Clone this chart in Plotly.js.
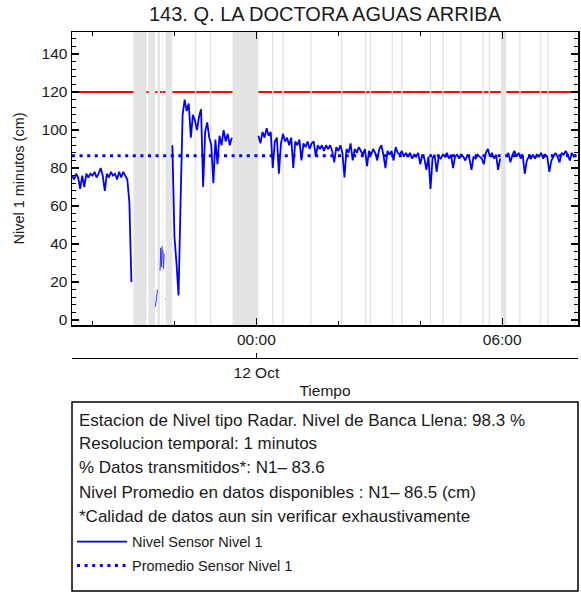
<!DOCTYPE html>
<html><head><meta charset="utf-8">
<script src="https://cdn.plot.ly/plotly-3.0.1.min.js"></script>
<style>html,body{margin:0;padding:0;background:#fff}#chart{width:581px;height:593px}</style>
</head><body><div id="chart"></div>
<script>
const titulo = '143. Q. LA DOCTORA AGUAS ARRIBA';
const tituloY = 'Nivel 1 minutos (cm)';
const tituloX = 'Tiempo';
const etiquetaFecha = '12 Oct';
const fechaMedianoche = '2021-10-12 00:00';
const inicioSerieUTC = Date.UTC(2021, 9, 11, 19, 30);
const pasoMinutos = 3;
// Nivel (cm), one value every 3 minutes from 19:30 on 11 Oct; null = no data
const nivel = [
 76,74,77,75,69,76,70,77,75,77,76,78,75,77,80,76,68,77,75,78,76,77,74,78,75,78,76,74,62,20,
 null,null,null,null,null,null,null,null,null,null,null,null,null,null,null,null,null,null,null,
 92,44,30,13,62,108,116,110,114,96,108,105,100,107,111,70,99,104,96,92,72,95,82,97,92,100,94,98,92,96,
 null,null,null,null,null,null,null,null,null,null,null,null,
 97,93,99,96,101,97,99,80,94,96,
 77,93,98,94,96,92,96,80,94,92,
 95,84,93,91,94,90,93,94,86,92,
 90,92,89,92,90,92,89,83,91,89,
 92,88,75,90,88,93,84,90,88,91,
 89,87,90,81,89,87,90,88,84,90,
 92,87,80,89,87,89,84,91,88,87,
 89,86,88,86,88,85,87,86,88,82,
 87,85,79,86,69,85,87,78,86,85,
 87,86,88,85,87,80,86,87,85,87,
 86,84,87,85,79,86,85,87,86,85,
 82,88,90,86,88,85,87,79,85,
 null,null,
 86,88,83,87,89,86,88,85,87,77,
 84,86,85,87,85,87,86,88,85,87,
 86,78,84,86,88,86,83,88,87,89,
 87,84,88,86,87
];
// short data fragments inside the first outage
const fragTiempo = ['2021-10-11 21:32','2021-10-11 21:33','2021-10-11 21:34','2021-10-11 21:35',null,
 '2021-10-11 21:39','2021-10-11 21:40','2021-10-11 21:41','2021-10-11 21:42',null,
 '2021-10-11 21:43','2021-10-11 21:44','2021-10-11 21:45',null,
 '2021-10-11 21:46','2021-10-11 21:47'];
const fragNivel = [7,9,12,16,null,26,38,28,39,null,37,27,35,null,11,11];
const promedio = 86.5;
const bancaLlena = 120;
const finDatos = '2021-10-12 07:51';
// outages (grey bands)
const gapInicio = ['2021-10-11 21:00','2021-10-11 21:22','2021-10-11 21:35','2021-10-11 21:42','2021-10-11 21:47',
 '2021-10-11 22:30','2021-10-11 22:52','2021-10-11 23:25','2021-10-12 00:23','2021-10-12 00:38','2021-10-12 01:19',
 '2021-10-12 02:04','2021-10-12 02:39','2021-10-12 02:46','2021-10-12 03:18','2021-10-12 03:32','2021-10-12 04:14',
 '2021-10-12 04:32','2021-10-12 04:58','2021-10-12 05:31','2021-10-12 05:40','2021-10-12 05:58','2021-10-12 06:25',
 '2021-10-12 06:55','2021-10-12 07:06','2021-10-12 07:46'];
const gapFin = ['2021-10-11 21:19','2021-10-11 21:32','2021-10-11 21:39','2021-10-11 21:43','2021-10-11 21:57',
 '2021-10-11 22:32','2021-10-11 22:54','2021-10-12 00:03','2021-10-12 00:25','2021-10-12 00:40','2021-10-12 01:21',
 '2021-10-12 02:06','2021-10-12 02:41','2021-10-12 02:48','2021-10-12 03:20','2021-10-12 03:34','2021-10-12 04:16',
 '2021-10-12 04:34','2021-10-12 05:00','2021-10-12 05:33','2021-10-12 05:42','2021-10-12 06:06','2021-10-12 06:27',
 '2021-10-12 06:57','2021-10-12 07:08','2021-10-12 07:48'];
const rangoX = ['2021-10-11 19:30','2021-10-12 07:51'];
const rangoY = [-2.6, 151.6];
const lineasCaja = [
 'Estacion de Nivel tipo Radar. Nivel de Banca Llena: 98.3 %',
 'Resolucion temporal: 1 minutos',
 '% Datos transmitidos*: N1\u2013 83.6',
 'Nivel Promedio en datos disponibles : N1\u2013 86.5 (cm)',
 '*Calidad de datos aun sin verificar exhaustivamente'
];
const nombreSerie = 'Nivel Sensor Nivel 1';
const nombrePromedio = 'Promedio Sensor Nivel 1';

function fmt(ms){ return new Date(ms).toISOString().slice(0,16).replace('T',' '); }
const tiempo = nivel.map((v,i)=>fmt(inicioSerieUTC + i*pasoMinutos*60000));

// red bank-full line only where data exists
const rojoX = [rangoX[0]], rojoY = [bancaLlena];
gapInicio.forEach((g,i)=>{ rojoX.push(g, g, gapFin[i]); rojoY.push(bancaLlena, null, bancaLlena); });
rojoX.push(finDatos); rojoY.push(bancaLlena);

const FONT = 'Liberation Sans, Arial, sans-serif';
const TXT = '#1a1a1a';
const yBottom = (593-325)/561;

const traces = [
 {x: rojoX, y: rojoY, type:'scatter', mode:'lines', line:{color:'#ff0000', width:2}, showlegend:false, hoverinfo:'skip'},
 {x: tiempo, y: nivel, type:'scatter', mode:'lines', name:nombreSerie, line:{color:'#0000ff', width:1.8}, legend:'legend'},
 {x: fragTiempo, y: fragNivel, type:'scatter', mode:'lines', line:{color:'#3333ff', width:1}, showlegend:false},
 {x: rangoX, y: [promedio, promedio], type:'scatter', mode:'lines', name:nombrePromedio, xaxis:'x2',
  line:{color:'#0000ff', width:3, dash:'3px,4.6px'}, legend:'legend2'}
];

const shapes = gapInicio.map((g,i)=>({type:'rect', xref:'x', yref:'y domain', x0:g, x1:gapFin[i], y0:0, y1:1,
  fillcolor:'#e4e4e4', line:{width:0}, layer:'below'}));
shapes.push({type:'rect', xref:'paper', yref:'paper', x0:0, x1:1, y0:(593-591)/561, y1:(593-402)/561,
  line:{color:'#000', width:1.5}, fillcolor:'rgba(0,0,0,0)'});

const yLineas = [420, 443, 467, 492, 516];
const annotations = lineasCaja.map((t,i)=>({text:t, xref:'paper', yref:'paper', x:(77-72)/506, y:(593-yLineas[i])/561,
  xanchor:'left', yanchor:'middle', showarrow:false, font:{family:FONT, size:17, color:TXT}}));

const layout = {
 width:581, height:593, margin:{l:72, r:3, t:32, b:0},
 paper_bgcolor:'#fff', plot_bgcolor:'#fff',
 title:{text:titulo, font:{family:FONT, size:20, color:TXT}, xref:'paper', x:0.5, xanchor:'center', yref:'container', y:1-14/593, yanchor:'middle'},
 xaxis:{type:'date', range:rangoX, domain:[0,1], anchor:'y', showline:true, mirror:'ticks', linecolor:'#000', linewidth:1.5,
  ticks:'inside', ticklen:7, tickwidth:1.2, tickcolor:'#000', tick0:fechaMedianoche, dtick:6*3600000, tickformat:'%H:%M',
  minor:{ticks:'inside', ticklen:4, tickwidth:1, tickcolor:'#000', dtick:2*3600000, tick0:fechaMedianoche},
  showgrid:false, zeroline:false, tickfont:{family:FONT, size:15.5, color:TXT}},
 xaxis2:{type:'date', range:rangoX, overlaying:'x', anchor:'free', position:(593-357.7)/561, side:'bottom',
  showline:true, linecolor:'#000', linewidth:1.5, ticks:'inside', ticklen:5, tickwidth:1.2, tickcolor:'#000',
  tickmode:'array', tickvals:[fechaMedianoche], ticktext:[etiquetaFecha], showgrid:false, zeroline:false,
  tickfont:{family:FONT, size:15.5, color:TXT}, title:{text:tituloX, font:{family:FONT, size:15.5, color:TXT}, standoff:5}},
 yaxis:{range:rangoY, domain:[yBottom,1], showline:true, mirror:'ticks', linecolor:'#000', linewidth:1.5,
  ticks:'inside', ticklen:7, tickwidth:1.2, tickcolor:'#000', tick0:0, dtick:20,
  minor:{ticks:'inside', ticklen:4, tickwidth:1, tickcolor:'#000', dtick:4},
  showgrid:false, zeroline:false, tickfont:{family:FONT, size:15.5, color:TXT},
  title:{text:tituloY, font:{family:FONT, size:14.5, color:TXT}, standoff:13}},
 legend:{x:0, xanchor:'left', y:(593-541.7)/561, yanchor:'middle', itemwidth:50, bgcolor:'rgba(0,0,0,0)',
  font:{family:FONT, size:14.5, color:TXT}},
 legend2:{x:0, xanchor:'left', y:(593-565.5)/561, yanchor:'middle', itemwidth:50, bgcolor:'rgba(0,0,0,0)',
  font:{family:FONT, size:14.5, color:TXT}},
 shapes:shapes, annotations:annotations, showlegend:true
};
Plotly.newPlot('chart', traces, layout, {staticPlot:true, displayModeBar:false});
</script></body></html>
